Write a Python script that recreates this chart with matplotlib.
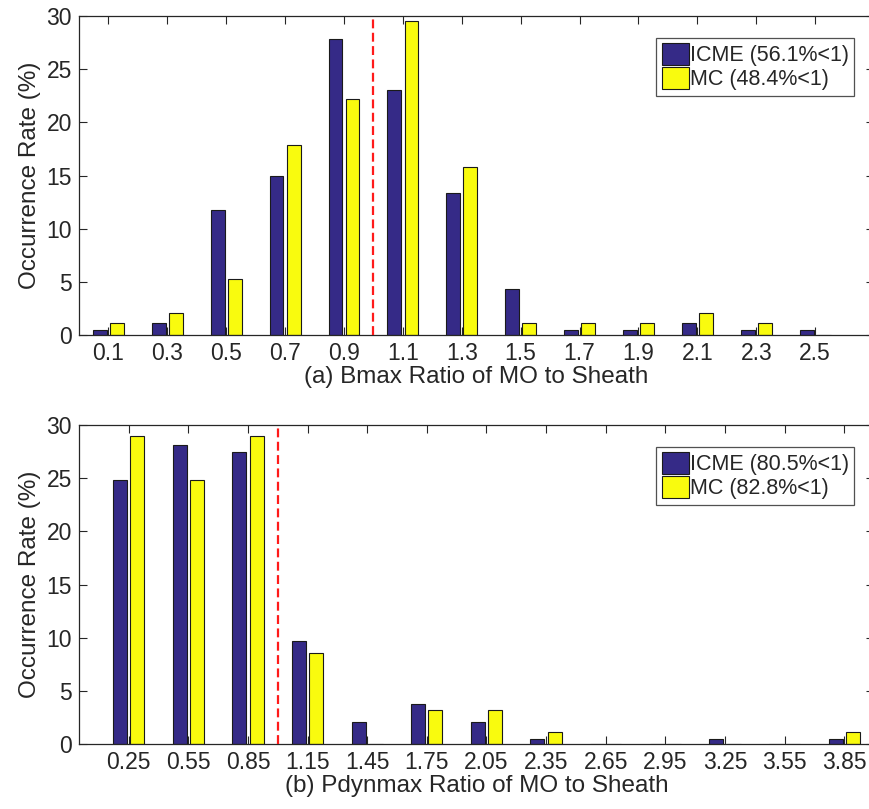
import numpy as np
import matplotlib.pyplot as plt

plt.rcParams['font.family'] = ['Liberation Sans', 'DejaVu Sans']

# (a) Bmax ratio bins
bmax_bins = [0.1, 0.3, 0.5, 0.7, 0.9, 1.1, 1.3, 1.5, 1.7, 1.9, 2.1, 2.3, 2.5]
bmax_icme = [0.5, 1.1, 11.8, 15.0, 27.8, 23.0, 13.4, 4.3, 0.5, 0.5, 1.1, 0.5, 0.5]
bmax_mc   = [1.1, 2.1, 5.3, 17.9, 22.2, 29.5, 15.8, 1.1, 1.1, 1.1, 2.1, 1.1, 0.0]

# (b) Pdynmax ratio bins
pdyn_bins = [0.25, 0.55, 0.85, 1.15, 1.45, 1.75, 2.05, 2.35, 2.65, 2.95, 3.25, 3.55, 3.85]
pdyn_icme = [24.8, 28.1, 27.5, 9.7, 2.1, 3.8, 2.1, 0.5, 0.0, 0.0, 0.5, 0.0, 0.5]
pdyn_mc   = [29.0, 24.8, 29.0, 8.6, 0.0, 3.2, 3.2, 1.1, 0.0, 0.0, 0.0, 0.0, 1.1]

icme_labels = ['ICME (56.1%<1)', 'ICME (80.5%<1)']
mc_labels   = ['MC (48.4%<1)', 'MC (82.8%<1)']
xlabels = ['(a) Bmax Ratio of MO to Sheath', '(b) Pdynmax Ratio of MO to Sheath']

ICME_COLOR = '#352a87'
MC_COLOR   = '#f9fb0e'
DARK = '#262626'

fig = plt.figure(figsize=(8.69, 8.09), dpi=100)
ax_a = fig.add_axes([0.0909, 0.5859, 0.9149, 0.3943])
ax_b = fig.add_axes([0.0909, 0.0803, 0.9149, 0.3943])


def draw_panel(ax, bins, icme, mc, xmax, icme_lab, mc_lab, xlab):
    bins = np.array(bins)
    step = bins[1] - bins[0]
    w = 0.235 * step
    off = 0.145 * step
    ax.bar(bins - off, icme, width=w, color=ICME_COLOR, edgecolor='#1a1a1a',
           linewidth=0.8, label=icme_lab, zorder=2)
    ax.bar(bins + off, mc, width=w, color=MC_COLOR, edgecolor='#1a1a1a',
           linewidth=0.8, label=mc_lab, zorder=2)
    ax.axvline(1.0, color='#ff1a1a', linestyle=(0, (4, 2)), linewidth=1.6, zorder=3)
    ax.set_xlim(0, xmax)
    ax.set_ylim(0, 30)
    ax.set_xticks(bins)
    ax.set_xticklabels([f'{b:g}' for b in bins])
    ax.set_yticks(range(0, 31, 5))
    ax.set_axisbelow(True)
    ax.tick_params(direction='in', top=True, right=True, length=6, width=0.8,
                   labelsize=16.5, colors=DARK, pad=5)
    for s in ax.spines.values():
        s.set_color(DARK)
        s.set_linewidth(0.9)
    ax.set_ylabel('Occurrence Rate (%)', fontsize=17.5, color=DARK, labelpad=4)
    ax.set_xlabel(xlab, fontsize=17.5, color=DARK, labelpad=1)
    leg = ax.legend(loc='upper right', bbox_to_anchor=(0.975, 0.931), fontsize=15.5,
                    frameon=True, fancybox=False, edgecolor=DARK,
                    handlelength=1.25, handleheight=1.15, handletextpad=0.05,
                    borderpad=0.25, labelspacing=0.05, borderaxespad=0)
    leg.get_frame().set_linewidth(0.9)
    for t in leg.get_texts():
        t.set_color(DARK)


draw_panel(ax_a, bmax_bins, bmax_icme, bmax_mc, 2.7, icme_labels[0], mc_labels[0], xlabels[0])
draw_panel(ax_b, pdyn_bins, pdyn_icme, pdyn_mc, 4.0, icme_labels[1], mc_labels[1], xlabels[1])

fig.savefig('out.png', dpi=100)
